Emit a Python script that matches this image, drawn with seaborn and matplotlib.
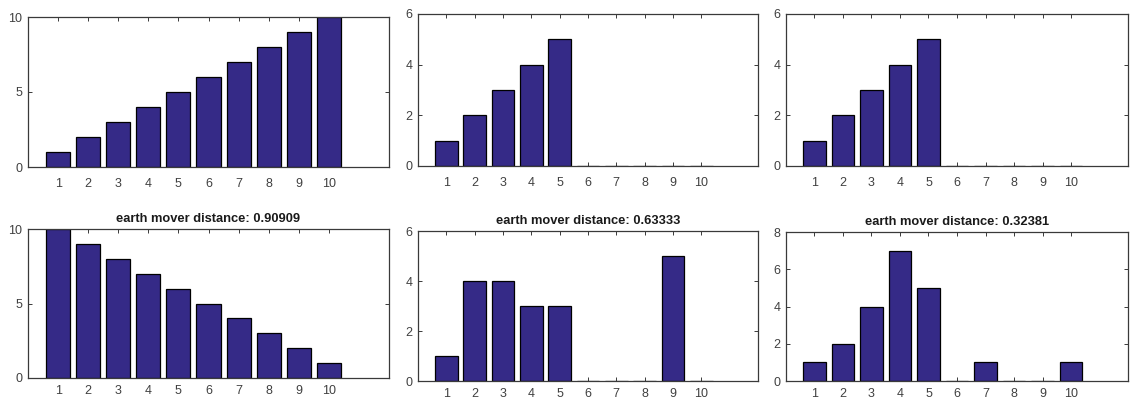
import numpy as np
import pandas as pd
import matplotlib
matplotlib.use("Agg")
import matplotlib.pyplot as plt
import seaborn as sns

# Histogram bins and counts for each panel
bins = [1, 2, 3, 4, 5, 6, 7, 8, 9, 10]
hist_a = [1, 2, 3, 4, 5, 6, 7, 8, 9, 10]
hist_b = [1, 2, 3, 4, 5, 0, 0, 0, 0, 0]
hist_c = [1, 2, 3, 4, 5, 0, 0, 0, 0, 0]
hist_d = [10, 9, 8, 7, 6, 5, 4, 3, 2, 1]
hist_e = [1, 4, 4, 3, 3, 0, 0, 0, 5, 0]
hist_f = [1, 2, 4, 7, 5, 0, 1, 0, 0, 1]

emd_values = [0.90909, 0.63333, 0.32381]
title_fmt = "earth mover distance: {:.5f}"

y_limits = [10, 6, 6, 10, 6, 8]
y_ticks = [[0, 5, 10], [0, 2, 4, 6], [0, 2, 4, 6],
           [0, 5, 10], [0, 2, 4, 6], [0, 2, 4, 6, 8]]

sns.set_theme(style="white")
plt.rcParams["font.family"] = ["Liberation Sans", "DejaVu Sans"]

W, H = 1130, 403
fig = plt.figure(figsize=(W / 100, H / 100), dpi=100)

# axes boxes in pixels: (left, top, right, bottom)
boxes = [
    (28, 17, 389, 167), (418, 14, 758, 166), (786, 14, 1128, 166),
    (28, 229, 389, 378), (418, 231, 758, 381), (786, 232, 1128, 381),
]

bar_color = "#352A87"
axis_color = "#3a3a3a"
hists = [hist_a, hist_b, hist_c, hist_d, hist_e, hist_f]

for i, (vals, box) in enumerate(zip(hists, boxes)):
    l, t, r, b = box
    ax = fig.add_axes([l / W, 1 - b / H, (r - l) / W, (b - t) / H])
    df = pd.DataFrame({"bin": bins, "count": vals})
    sns.barplot(data=df, x="bin", y="count", native_scale=True, width=0.8,
                color=bar_color, saturation=1, edgecolor="black",
                linewidth=0.9, ax=ax)
    ax.set_xlim(0, 12)
    ax.set_ylim(0, y_limits[i])
    ax.set_xticks(bins)
    ax.set_xticklabels([str(v) for v in bins])
    ax.set_yticks(y_ticks[i])
    ax.set_xlabel("")
    ax.set_ylabel("")
    for s in ax.spines.values():
        s.set_visible(True)
        s.set_color(axis_color)
        s.set_linewidth(0.9)
        s.set_zorder(5)
    ax.tick_params(direction="in", length=3, width=0.7, color=axis_color,
                   labelcolor="#404040", labelsize=9,
                   top=True, right=True, bottom=True, left=True)
    ax.tick_params(axis="x", pad=8 if i < 3 else 5)
    ax.tick_params(axis="y", pad=4)
    if i >= 3:
        ax.set_title(title_fmt.format(emd_values[i - 3]), fontsize=9.3,
                     fontweight="bold", color="#1a1a1a", pad=5)

fig.savefig("out.png", dpi=100)
